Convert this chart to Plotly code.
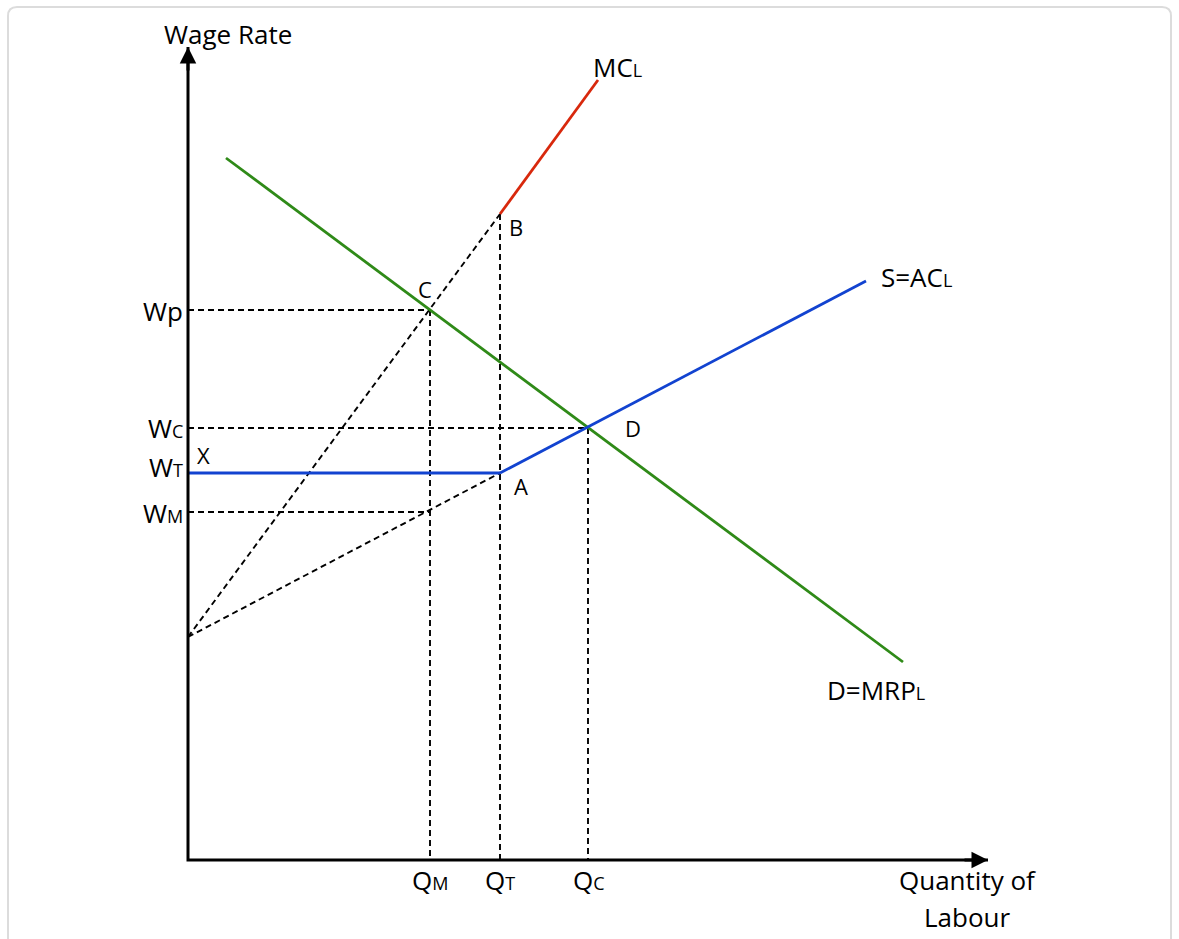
import plotly.graph_objects as go

# Labour-market diagram: monopsony employer, trade-union wage floor
# Quantity (q) and wage (w) are in diagram units from the origin.

# Demand for labour, D = MRP_L
demand_q = [3.8, 71.5]
demand_w = [70.2, 19.8]

# Supply (average cost of labour); first point is the vertical intercept
supply_q = [0.0, 31.2, 67.8]
supply_w = [22.3, 38.7, 57.9]

# Marginal cost of labour
mc_q = [0.0, 31.2, 41.0]
mc_w = [22.3, 64.6, 78.0]

# Key quantities and wages
Q_M, Q_T, Q_C = 24.2, 31.2, 40.0
W_P, W_C, W_T, W_M = 55.0, 43.2, 38.7, 34.8

# Axes extent
Q_MAX, W_MAX = 80.0, 81.3

GREEN = "#2f8a18"
BLUE = "#1243d0"
RED = "#d8280c"
FONT = "'Open Sans', 'Noto Sans', sans-serif"
BIG, SMALL, SUB = 26, 22, 18

W_PX, H_PX = 1179, 939
X0_PX, Y0_PX, SCALE = 188, 860, 10.0  # origin position and px per unit

fig = go.Figure()


def seg(xs, ys, color, width=2.6, dash=None):
    fig.add_trace(go.Scatter(
        x=xs, y=ys, mode="lines", hoverinfo="skip", showlegend=False,
        line=dict(color=color, width=width, dash=dash),
    ))


DASH = "6px,4px"
DW = 1.9
# dashed guide lines
seg([0, Q_M], [W_P, W_P], "black", DW, DASH)
seg([0, Q_C], [W_C, W_C], "black", DW, DASH)
seg([0, Q_M], [W_M, W_M], "black", DW, DASH)
seg([Q_M, Q_M], [W_P, 0], "black", DW, DASH)
seg([Q_T, Q_T], [mc_w[1], 0], "black", DW, DASH)
seg([Q_C, Q_C], [W_C, 0], "black", DW, DASH)
seg(mc_q[:2], mc_w[:2], "black", DW, DASH)
seg(supply_q[:2], supply_w[:2], "black", DW, DASH)

# curves
seg(demand_q, demand_w, GREEN, 2.8)
seg([0, Q_T], [W_T, W_T], BLUE, 2.8)
seg(supply_q[1:], supply_w[1:], BLUE, 2.8)
seg(mc_q[1:], mc_w[1:], RED, 2.8)

# axes
seg([0, 0, Q_MAX], [W_MAX, 0, 0], "black", 3)

annotations = []


def arrow(x, y, ax, ay):
    annotations.append(dict(
        x=x, y=y, ax=ax, ay=ay, xref="x", yref="y", showarrow=True,
        arrowhead=2, arrowsize=1.1, arrowwidth=3, arrowcolor="black", text="",
    ))


arrow(0, W_MAX, 0, 25)
arrow(Q_MAX, 0, -25, 0)


def label(x, y, text, xanchor="center", size=BIG):
    annotations.append(dict(
        x=x, y=y, xref="x", yref="y", text=text, showarrow=False,
        xanchor=xanchor, yanchor="middle",
        font=dict(family=FONT, size=size, color="black"),
    ))


def sub(s):
    return f"<span style='font-size:{SUB}px'>{s}</span>"


label(4.0, 82.6, "Wage Rate")
label(42.9, 79.3, "MC" + sub("L"))
label(72.8, 58.3, "S=AC" + sub("L"))
label(68.8, 17.0, "D=MRP" + sub("L"))
label(Q_T + 1.6, mc_w[1] - 1.3, "B", size=SMALL)
label(Q_M - 0.5, W_P + 2.1, "C", size=SMALL)
label(Q_C + 4.5, W_C, "D", size=SMALL)
label(Q_T + 2.1, W_T - 1.3, "A", size=SMALL)
label(1.5, W_T + 1.8, "X", size=SMALL)

label(-0.3, W_P - 0.1, "Wp", "right")
label(-0.3, W_C, "W" + sub("C"), "right")
label(-0.3, W_T + 0.6, "W" + sub("T"), "right")
label(-0.3, W_M - 0.1, "W" + sub("M"), "right")

label(Q_M, -2.0, "Q" + sub("M"))
label(Q_T, -2.0, "Q" + sub("T"))
label(Q_C + 0.1, -2.0, "Q" + sub("C"))
label(77.9, -2.0, "Quantity of")
label(77.9, -5.7, "Labour")


# rounded card border
def px(x):
    return x / W_PX


def py(y):
    return 1 - y / H_PX


L, R, T, B, RAD = 8, 1171, 7, 960, 9
card = (
    f"M {px(L)},{py(B)} L {px(L)},{py(T + RAD)} "
    f"Q {px(L)},{py(T)} {px(L + RAD)},{py(T)} "
    f"L {px(R - RAD)},{py(T)} "
    f"Q {px(R)},{py(T)} {px(R)},{py(T + RAD)} "
    f"L {px(R)},{py(B)}"
)

fig.update_layout(
    width=W_PX, height=H_PX,
    margin=dict(l=0, r=0, t=0, b=0),
    paper_bgcolor="white", plot_bgcolor="white",
    showlegend=False,
    annotations=annotations,
    shapes=[dict(type="path", path=card, xref="paper", yref="paper",
                 line=dict(color="#dcdcdc", width=2), layer="below")],
    xaxis=dict(range=[-X0_PX / SCALE, (W_PX - X0_PX) / SCALE],
               visible=False, fixedrange=True),
    yaxis=dict(range=[(Y0_PX - H_PX) / SCALE, Y0_PX / SCALE],
               visible=False, fixedrange=True),
)

fig.write_html("out.html")
